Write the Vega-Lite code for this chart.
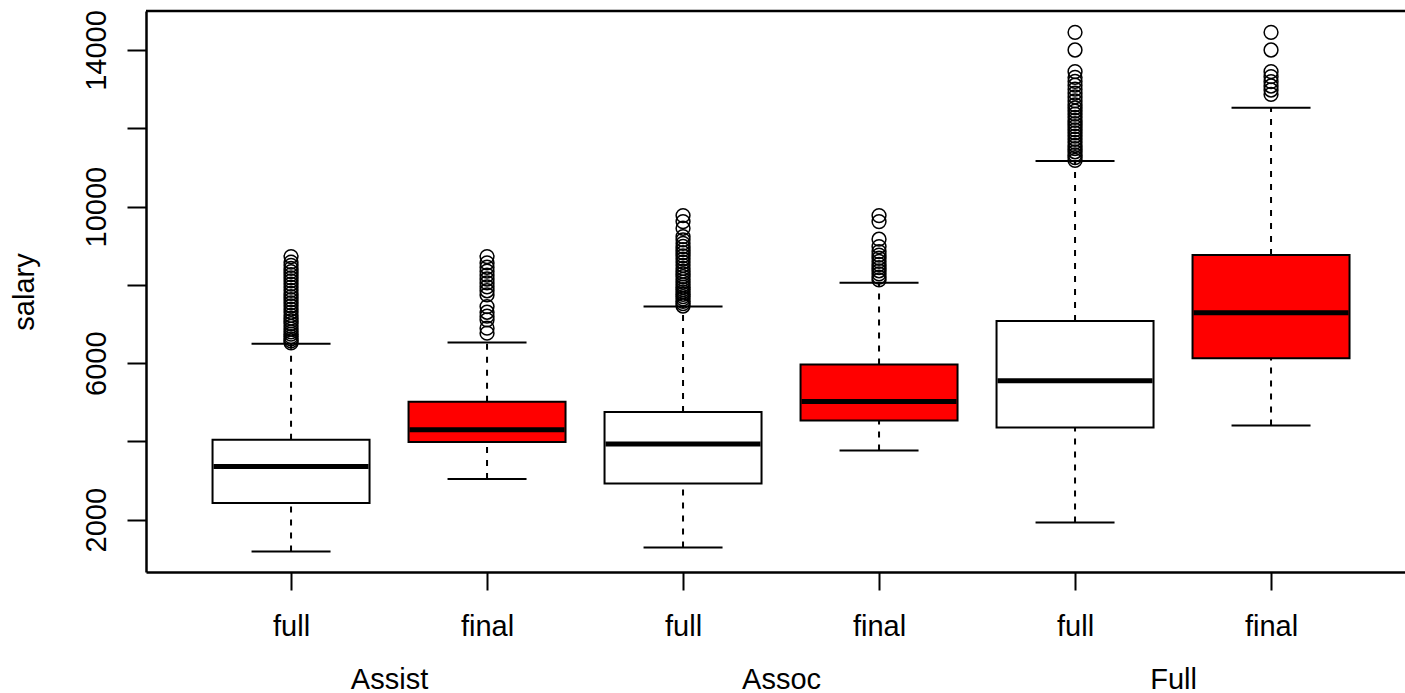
{
  "$schema": "https://vega.github.io/schema/vega-lite/v6.json",
  "width": 1259,
  "height": 561,
  "autosize": {"type": "none"},
  "padding": {"left": 146, "top": 11, "right": 0, "bottom": 121},
  "background": "white",
  "config": {
    "view": {"stroke": null},
    "font": "Liberation Sans"
  },
  "datasets": {
    "boxes": [
      {"pos": 1, "group": "Assist", "type": "full", "low": 1191, "q1": 2426, "median": 3361, "q3": 4042, "high": 6493},
      {"pos": 2, "group": "Assist", "type": "final", "low": 3039, "q1": 3984, "median": 4298, "q3": 5012, "high": 6526},
      {"pos": 3, "group": "Assoc", "type": "full", "low": 1293, "q1": 2927, "median": 3933, "q3": 4750, "high": 7446},
      {"pos": 4, "group": "Assoc", "type": "final", "low": 3769, "q1": 4535, "median": 5020, "q3": 5965, "high": 8051},
      {"pos": 5, "group": "Full", "type": "full", "low": 1931, "q1": 4357, "median": 5549, "q3": 7080, "high": 11165},
      {"pos": 6, "group": "Full", "type": "final", "low": 4408, "q1": 6128, "median": 7285, "q3": 8765, "high": 12526}
    ],
    "frame": [
      {"top": 14996}
    ],
    "outliers": [
      {"pos": 1, "salary": 6520}, {"pos": 1, "salary": 6570}, {"pos": 1, "salary": 6620}, {"pos": 1, "salary": 6680},
      {"pos": 1, "salary": 6740}, {"pos": 1, "salary": 6800}, {"pos": 1, "salary": 6870}, {"pos": 1, "salary": 6940},
      {"pos": 1, "salary": 7010}, {"pos": 1, "salary": 7080}, {"pos": 1, "salary": 7150}, {"pos": 1, "salary": 7220},
      {"pos": 1, "salary": 7300}, {"pos": 1, "salary": 7380}, {"pos": 1, "salary": 7460}, {"pos": 1, "salary": 7540},
      {"pos": 1, "salary": 7620}, {"pos": 1, "salary": 7700}, {"pos": 1, "salary": 7780}, {"pos": 1, "salary": 7860},
      {"pos": 1, "salary": 7940}, {"pos": 1, "salary": 8020}, {"pos": 1, "salary": 8100}, {"pos": 1, "salary": 8180},
      {"pos": 1, "salary": 8260}, {"pos": 1, "salary": 8340}, {"pos": 1, "salary": 8420}, {"pos": 1, "salary": 8500},
      {"pos": 1, "salary": 8580}, {"pos": 1, "salary": 8722},
      {"pos": 2, "salary": 6766}, {"pos": 2, "salary": 6894}, {"pos": 2, "salary": 7106}, {"pos": 2, "salary": 7200},
      {"pos": 2, "salary": 7300}, {"pos": 2, "salary": 7446}, {"pos": 2, "salary": 7744}, {"pos": 2, "salary": 7850},
      {"pos": 2, "salary": 7950}, {"pos": 2, "salary": 8050}, {"pos": 2, "salary": 8150}, {"pos": 2, "salary": 8250},
      {"pos": 2, "salary": 8350}, {"pos": 2, "salary": 8450}, {"pos": 2, "salary": 8560}, {"pos": 2, "salary": 8722},
      {"pos": 3, "salary": 7460}, {"pos": 3, "salary": 7520}, {"pos": 3, "salary": 7580}, {"pos": 3, "salary": 7640},
      {"pos": 3, "salary": 7700}, {"pos": 3, "salary": 7760}, {"pos": 3, "salary": 7820}, {"pos": 3, "salary": 7880},
      {"pos": 3, "salary": 7940}, {"pos": 3, "salary": 8000}, {"pos": 3, "salary": 8070}, {"pos": 3, "salary": 8140},
      {"pos": 3, "salary": 8210}, {"pos": 3, "salary": 8280}, {"pos": 3, "salary": 8350}, {"pos": 3, "salary": 8420},
      {"pos": 3, "salary": 8500}, {"pos": 3, "salary": 8580}, {"pos": 3, "salary": 8660}, {"pos": 3, "salary": 8740},
      {"pos": 3, "salary": 8820}, {"pos": 3, "salary": 8900}, {"pos": 3, "salary": 8980}, {"pos": 3, "salary": 9060},
      {"pos": 3, "salary": 9150}, {"pos": 3, "salary": 9233}, {"pos": 3, "salary": 9446}, {"pos": 3, "salary": 9616},
      {"pos": 3, "salary": 9769},
      {"pos": 4, "salary": 8127}, {"pos": 4, "salary": 8200}, {"pos": 4, "salary": 8280}, {"pos": 4, "salary": 8360},
      {"pos": 4, "salary": 8440}, {"pos": 4, "salary": 8520}, {"pos": 4, "salary": 8600}, {"pos": 4, "salary": 8680},
      {"pos": 4, "salary": 8760}, {"pos": 4, "salary": 8850}, {"pos": 4, "salary": 8978}, {"pos": 4, "salary": 9166},
      {"pos": 4, "salary": 9616}, {"pos": 4, "salary": 9769},
      {"pos": 5, "salary": 11180}, {"pos": 5, "salary": 11250}, {"pos": 5, "salary": 11320}, {"pos": 5, "salary": 11400},
      {"pos": 5, "salary": 11480}, {"pos": 5, "salary": 11560}, {"pos": 5, "salary": 11640}, {"pos": 5, "salary": 11720},
      {"pos": 5, "salary": 11800}, {"pos": 5, "salary": 11880}, {"pos": 5, "salary": 11960}, {"pos": 5, "salary": 12040},
      {"pos": 5, "salary": 12120}, {"pos": 5, "salary": 12200}, {"pos": 5, "salary": 12280}, {"pos": 5, "salary": 12360},
      {"pos": 5, "salary": 12440}, {"pos": 5, "salary": 12520}, {"pos": 5, "salary": 12600}, {"pos": 5, "salary": 12700},
      {"pos": 5, "salary": 12800}, {"pos": 5, "salary": 12900}, {"pos": 5, "salary": 13000}, {"pos": 5, "salary": 13100},
      {"pos": 5, "salary": 13200}, {"pos": 5, "salary": 13300}, {"pos": 5, "salary": 13446}, {"pos": 5, "salary": 14000},
      {"pos": 5, "salary": 14451},
      {"pos": 6, "salary": 12868}, {"pos": 6, "salary": 12978}, {"pos": 6, "salary": 13080}, {"pos": 6, "salary": 13190},
      {"pos": 6, "salary": 13318}, {"pos": 6, "salary": 13446}, {"pos": 6, "salary": 14000}, {"pos": 6, "salary": 14451}
    ]
  },
  "layer": [
    {
      "data": {"name": "boxes"},
      "mark": {"type": "rule", "strokeDash": [6, 7], "strokeWidth": 2, "color": "black"},
      "encoding": {
        "x": {
          "field": "pos",
          "type": "quantitative",
          "scale": {"domain": [0.26, 6.6835], "nice": false, "zero": false, "padding": 0},
          "title": null,
          "axis": {
            "values": [1, 1.5, 2, 3, 3.5, 4, 5, 5.5, 6],
            "labelExpr": "datum.value == 1.5 ? ['', 'Assist'] : datum.value == 3.5 ? ['', 'Assoc'] : datum.value == 5.5 ? ['', 'Full'] : (datum.value % 2 == 1 ? 'full' : 'final')",
            "domain": true,
            "domainColor": "black",
            "domainWidth": 2.5,
            "grid": false,
            "tickSize": 18,
            "tickWidth": 2,
            "tickColor": "black",
            "tickOpacity": {"condition": {"test": "datum.value % 1 != 0", "value": 0}, "value": 1},
            "labelFont": "Liberation Sans",
            "labelFontSize": 29,
            "labelColor": "black",
            "labelPadding": 22,
            "labelLineHeight": 53,
            "labelOverlap": false,
            "labelFlush": false,
            "labelBound": false
          }
        },
        "y": {
          "field": "low",
          "type": "quantitative",
          "title": "salary",
          "scale": {"domain": [665, 14996], "nice": false, "zero": false, "padding": 0},
          "axis": {
            "values": [2000, 4000, 6000, 8000, 10000, 12000, 14000],
            "format": "d",
            "labelExpr": "datum.value % 4000 == 2000 ? datum.label : ''",
            "domain": true,
            "domainColor": "black",
            "domainWidth": 2.5,
            "grid": false,
            "tickSize": 19,
            "tickWidth": 2,
            "tickColor": "black",
            "labelAngle": 270,
            "labelAlign": "center",
            "labelBaseline": "alphabetic",
            "labelPadding": 22,
            "labelFont": "Liberation Sans",
            "labelFontSize": 29,
            "labelColor": "black",
            "labelOverlap": false,
            "labelFlush": false,
            "labelBound": false,
            "titleFont": "Liberation Sans",
            "titleFontSize": 29,
            "titleFontWeight": "normal",
            "titleColor": "black",
            "titleAngle": 270,
            "titleAlign": "center",
            "titleBaseline": "alphabetic",
            "titleX": -113,
            "titleY": 280.5
          }
        },
        "y2": {"field": "q1"}
      }
    },
    {
      "data": {"name": "frame"},
      "mark": {"type": "rule", "strokeWidth": 2.5, "color": "black"},
      "encoding": {
        "y": {"field": "top", "type": "quantitative", "title": "salary"}
      }
    },
    {
      "data": {"name": "boxes"},
      "mark": {"type": "rule", "strokeDash": [6, 7], "strokeWidth": 2, "color": "black"},
      "encoding": {
        "x": {"field": "pos", "type": "quantitative"},
        "y": {"field": "q3", "type": "quantitative", "title": "salary"},
        "y2": {"field": "high"}
      }
    },
    {
      "data": {"name": "boxes"},
      "mark": {"type": "bar", "width": 157, "stroke": "black", "strokeWidth": 2, "opacity": 1},
      "encoding": {
        "x": {"field": "pos", "type": "quantitative"},
        "y": {"field": "q1", "type": "quantitative", "title": "salary"},
        "y2": {"field": "q3"},
        "fill": {
          "field": "type",
          "type": "nominal",
          "scale": {"domain": ["full", "final"], "range": ["#ffffff", "#ff0000"]},
          "legend": null
        }
      }
    },
    {
      "data": {"name": "boxes"},
      "mark": {"type": "tick", "orient": "horizontal", "size": 155, "thickness": 5, "color": "black", "opacity": 1},
      "encoding": {
        "x": {"field": "pos", "type": "quantitative"},
        "y": {"field": "median", "type": "quantitative", "title": "salary"}
      }
    },
    {
      "data": {"name": "boxes"},
      "mark": {"type": "tick", "orient": "horizontal", "size": 79, "thickness": 2, "color": "black", "opacity": 1},
      "encoding": {
        "x": {"field": "pos", "type": "quantitative"},
        "y": {"field": "low", "type": "quantitative", "title": "salary"}
      }
    },
    {
      "data": {"name": "boxes"},
      "mark": {"type": "tick", "orient": "horizontal", "size": 79, "thickness": 2, "color": "black", "opacity": 1},
      "encoding": {
        "x": {"field": "pos", "type": "quantitative"},
        "y": {"field": "high", "type": "quantitative", "title": "salary"}
      }
    },
    {
      "data": {"name": "outliers"},
      "mark": {"type": "point", "shape": "circle", "filled": false, "size": 190, "stroke": "black", "strokeWidth": 1.5, "opacity": 1},
      "encoding": {
        "x": {"field": "pos", "type": "quantitative"},
        "y": {"field": "salary", "type": "quantitative", "title": "salary"}
      }
    }
  ]
}
